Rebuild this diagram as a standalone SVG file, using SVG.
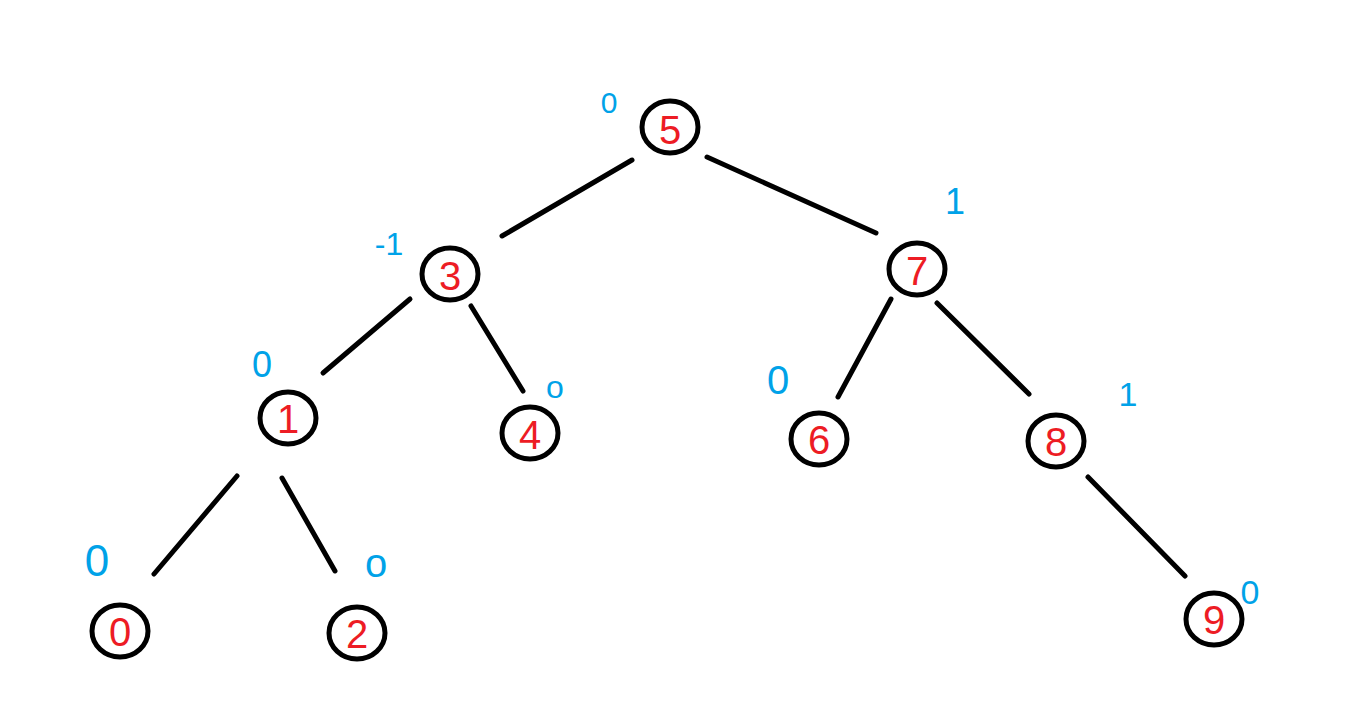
<svg xmlns="http://www.w3.org/2000/svg" width="1350" height="723" viewBox="0 0 1350 723">
<style>
.n ellipse{fill:none;stroke:#000;stroke-width:5}
.n text{fill:#ED1C24;font-family:"Liberation Sans",sans-serif;font-size:40px;text-anchor:middle}
.b{fill:#00A2E8;font-family:"Liberation Sans",sans-serif;text-anchor:middle}
#edges line{stroke:#000;stroke-width:5;stroke-linecap:round}
</style>
<rect width="1350" height="723" fill="#fff"/>
<g id="edges">
<line x1="632" y1="160" x2="502" y2="236"/>
<line x1="707" y1="157" x2="876" y2="233"/>
<line x1="410" y1="299" x2="323" y2="373"/>
<line x1="471" y1="306" x2="523" y2="391"/>
<line x1="891" y1="299" x2="838" y2="397"/>
<line x1="937" y1="303" x2="1029" y2="394"/>
<line x1="237" y1="476" x2="154" y2="574"/>
<line x1="282" y1="478" x2="335" y2="571"/>
<line x1="1088" y1="477" x2="1185" y2="576"/>
</g>
<g id="n5" class="n"><ellipse cx="670" cy="127" rx="28" ry="26"/><text x="670" y="144">5</text></g>
<g id="n3" class="n"><ellipse cx="450" cy="274" rx="28" ry="26"/><text x="450" y="290">3</text></g>
<g id="n7" class="n"><ellipse cx="917" cy="269" rx="28" ry="26"/><text x="917" y="285">7</text></g>
<g id="n1" class="n"><ellipse cx="288" cy="418" rx="28" ry="26"/><text x="288" y="433">1</text></g>
<g id="n4" class="n"><ellipse cx="530" cy="433" rx="28" ry="26"/><text x="530" y="449">4</text></g>
<g id="n6" class="n"><ellipse cx="819" cy="439" rx="28" ry="26"/><text x="819" y="454">6</text></g>
<g id="n8" class="n"><ellipse cx="1056" cy="441" rx="28" ry="26"/><text x="1056" y="456">8</text></g>
<g id="n0" class="n"><ellipse cx="120" cy="631" rx="28" ry="26"/><text x="120" y="646">0</text></g>
<g id="n2" class="n"><ellipse cx="357" cy="633" rx="28" ry="26"/><text x="357" y="648">2</text></g>
<g id="n9" class="n"><ellipse cx="1214" cy="619" rx="28" ry="26"/><text x="1214" y="634">9</text></g>
<g id="labels">
<text class="b" x="609" y="113" font-size="30">0</text>
<text class="b" x="389" y="255" font-size="32">-1</text>
<text class="b" x="955" y="214" font-size="36">1</text>
<text class="b" x="262" y="377" font-size="36">0</text>
<text class="b" x="555" y="398" font-size="32">o</text>
<text class="b" x="778" y="394" font-size="40">0</text>
<text class="b" x="1128" y="406" font-size="34">1</text>
<text class="b" x="97" y="576" font-size="44">0</text>
<text class="b" x="376" y="577" font-size="40">o</text>
<text class="b" x="1250" y="604" font-size="34">0</text>
</g>
</svg>
